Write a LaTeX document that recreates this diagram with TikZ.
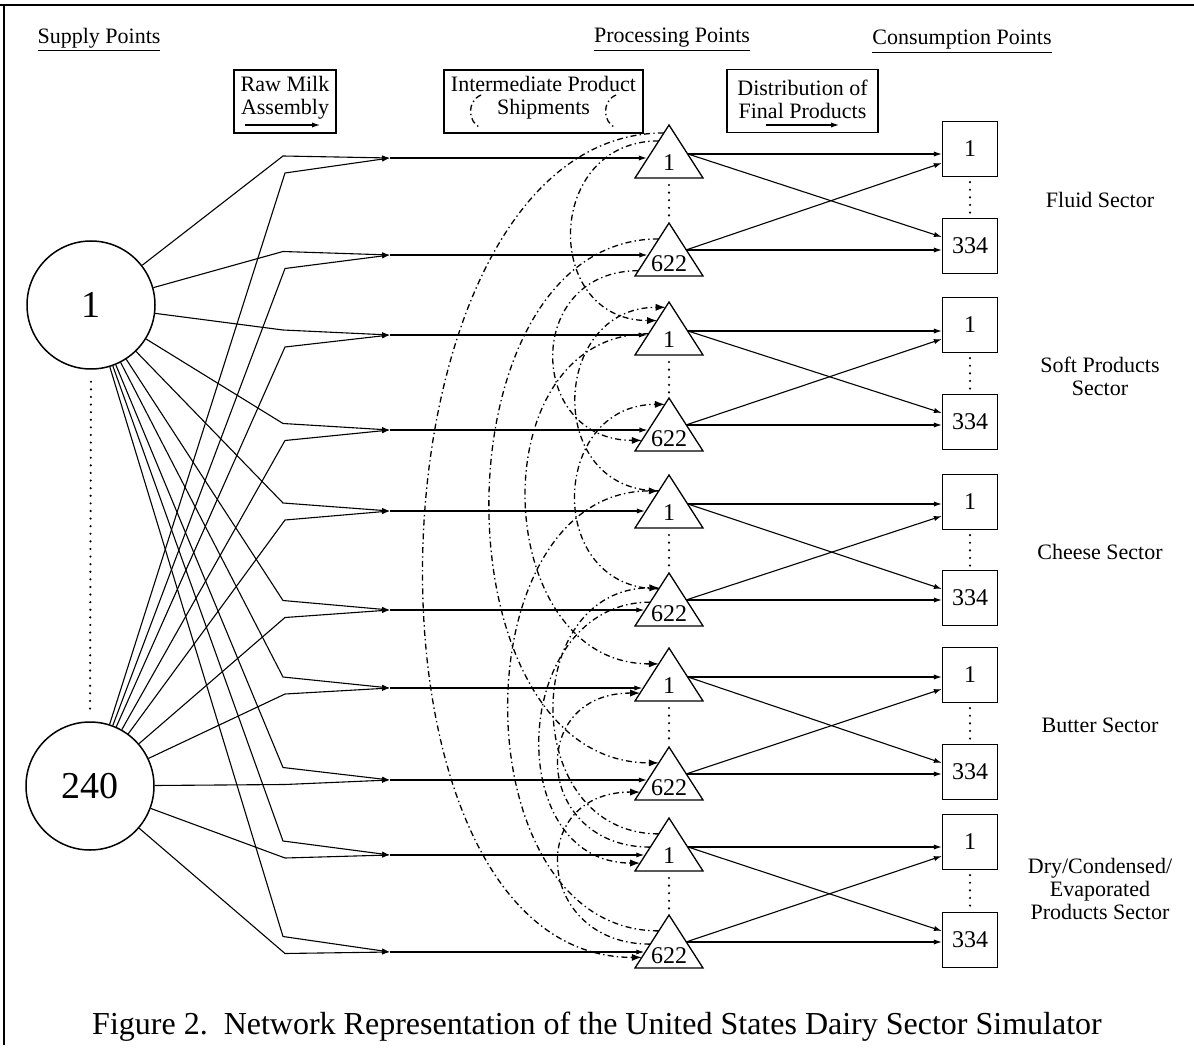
\documentclass[tikz,border=0pt]{standalone}
\usepackage{fontspec}
\setmainfont{Liberation Serif}
\usetikzlibrary{calc,arrows.meta}

\tikzset{
  lbl/.style={font=\fontsize{11}{11.5}\selectfont,align=center,inner sep=1pt},
  num/.style={font=\fontsize{12}{14}\selectfont,inner sep=0pt},
  legbox/.style={draw,line width=0.65pt,minimum height=31.5pt,inner sep=0pt},
  supply/.style={circle,draw,line width=0.75pt,minimum size=64pt,inner sep=0pt,font=\fontsize{19}{22}\selectfont},
  market/.style={draw,line width=0.65pt,minimum size=27.5pt,inner sep=0pt,font=\fontsize{12}{14}\selectfont},
  tri/.style={line width=0.65pt},
  flow/.style={line width=0.55pt,-{Latex[length=4pt,width=2.6pt]}},
  ship/.style={line width=0.65pt,dash pattern=on 3pt off 1.6pt on 0.7pt off 1.6pt,-{Latex[length=5pt,width=3.6pt]}},
  dotsep/.style={line width=1.2pt,line cap=round,dash pattern=on 0pt off 3.8pt},
}

\begin{document}
\begin{tikzpicture}[x=0.5pt,y=-0.5pt]
\useasboundingbox (0,0) rectangle (1194,1059);
% Marco
\draw[line width=0.7pt] (0,5) -- (1194,5);
\draw[line width=0.7pt] (4,5) -- (4,1045);
% Titulos
\node[lbl] (hsup) at (99,40) {\underline{Supply Points}};
\node[lbl] (hproc) at (672,40) {\underline{Processing Points}};
\node[lbl] (hcons) at (962,42) {\underline{Consumption Points}};
% Leyenda
\node[legbox,minimum width=51pt] (rawbox) at (285,101.5) {};
\node[lbl] (rawtxt) at (285,98) {Raw Milk\\Assembly};
\draw[flow] (245,125) -- (320,125);
\node[legbox,minimum width=99.5pt] (shipbox) at (543.5,101.5) {};
\node[lbl] (shiptxt) at (543.5,98) {Intermediate Product\\Shipments};
\draw[ship,-] (481,95) .. controls (467,101) and (467,122) .. (481,128);
\draw[ship,-] (616,95) .. controls (602,101) and (602,122) .. (616,128);
\node[legbox,minimum width=75.5pt] (distbox) at (802.5,101) {};
\node[lbl] (disttxt) at (802.5,99) {Distribution of\\Final Products};
\draw[flow] (766,125) -- (839,125);
% Puntos de oferta
\node[supply] (s1) at (91,305) {1};
\node[supply] (s240) at (90,786) {240};
\draw[dotsep] ($(s1.south)+(0,12)$) -- ($(s240.north)+(0,-8)$);
% Plantas
\foreach \k/\a/\lab/\dy in {0/125/1/38,1/223/622/41,2/302/1/38,3/398/622/41,4/475/1/38,5/573/622/41,6/648/1/38,7/747/622/41,8/818/1/38,9/915/622/41}{
  \coordinate (Ta\k) at (669,\a);
  \coordinate (Tl\k) at (635,\a+53);
  \coordinate (Tr\k) at (703,\a+53);
  \draw[tri] (Ta\k) -- (Tr\k) -- (Tl\k) -- cycle;
  \node[num] (T\k) at (669,\a+\dy) {\lab};
}
% Mercados
\foreach \k/\c/\lab in {0/149/1,1/246/334,2/325/1,3/422/334,4/502/1,5/598/334,6/675/1,7/772/334,8/842/1,9/940/334}{
  \node[market] (C\k) at (970,\c) {\lab};
}
\foreach \k/\kk in {0/1,2/3,4/5,6/7,8/9}{
  \draw[dotsep] ($(Ta\k)+(0,60)$) -- ($(Ta\kk)+(0,-2)$);
  \draw[dotsep] ($(C\k.south)+(0,5)$) -- (C\kk.north);
}
% Sectores
\node[lbl] (fluid) at (1100,200) {Fluid Sector};
\node[lbl] (soft) at (1100,376) {Soft Products\\Sector};
\node[lbl] (cheese) at (1100,552) {Cheese Sector};
\node[lbl] (butter) at (1100,725) {Butter Sector};
\node[lbl] (dry) at (1100,889) {Dry/Condensed/\\Evaporated\\Products Sector};
% Acopio de leche cruda
\foreach \k/\a/\y in {0/125/158,1/223/255,2/302/335,3/398/430,4/475/511,5/573/610,6/648/688,7/747/780,8/818/855,9/915/952}{
  \coordinate (m\k) at (390,\y);
  \coordinate (e\k) at ({668-34*(\y-\a)/53},\y);
  \coordinate (u\k) at (283,{\y-2-1.5*\k});
  \coordinate (w\k) at (285,{\y+15-1.5*\k});
  \draw[flow] (s1) -- (u\k) -- (m\k);
  \draw[flow] (s240) -- (w\k) -- (m\k);
  \draw[flow] (m\k) -- (e\k);
}
% Distribucion
\foreach \k/\kk/\a in {0/1/125,2/3/302,4/5/475,6/7/648,8/9/818}{
  \coordinate (x\k) at (688,\a+29);
  \draw[flow] (x\k) -- (x\k -| C\k.west);
  \draw[flow] (x\k) -- ($(C\kk.west)+(0,-9)$);
}
\foreach \k/\kk/\a in {1/0/223,3/2/398,5/4/573,7/6/747,9/8/915}{
  \coordinate (x\k) at (686,\a+27);
  \draw[flow] (x\k) -- (x\k -| C\k.west);
  \draw[flow] (x\k) -- ($(C\kk.west)+(0,14)$);
}
% Envios intermedios
\foreach \src/\fa/\dst/\fb/\bl in {0/0.3/2/0.35/115,0/0.15/9/0.8/305,1/0.9/3/0.8/115,1/0.3/7/0.3/225,4/0.3/2/0.1/115,5/0.3/3/0.12/115,9/0.3/4/0.3/200,8/0.3/5/0.28/140,2/0.6/6/0.3/170,8/0.55/6/0.85/115,9/0.55/7/0.85/115,5/0.55/8/0.85/140}{
  \draw[ship] ($(Ta\src)!\fa!(Tl\src)$) .. controls +(-\bl,0) and +(-\bl,0) .. ($(Ta\dst)!\fb!(Tl\dst)$);
}
% Titulo
\node[font=\fontsize{16}{19}\selectfont] (cap) at (597,1027) {Figure 2.\ \ Network Representation of the United States Dairy Sector Simulator};
\end{tikzpicture}
\end{document}
